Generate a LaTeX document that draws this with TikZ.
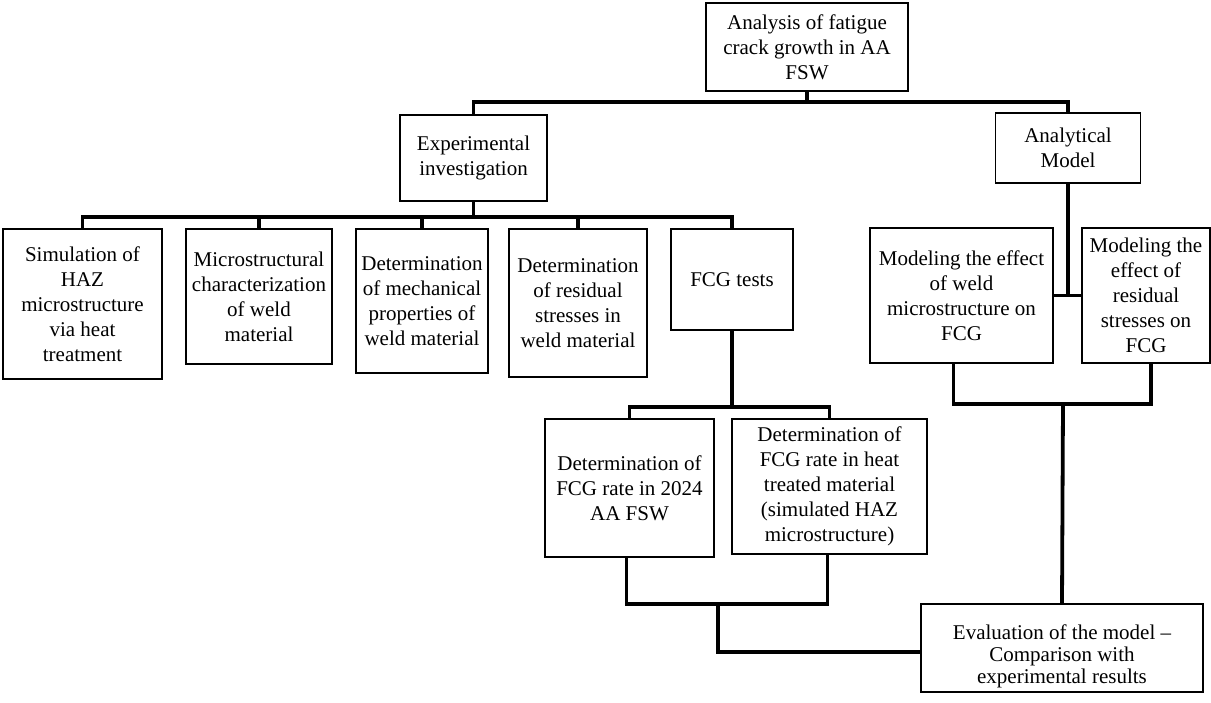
\documentclass[tikz,border=0pt]{standalone}
\usepackage{fontspec}
\setmainfont{Liberation Serif}
\begin{document}
\begin{tikzpicture}[x=1pt,y=-1pt,
  box/.style={draw=black, line width=1.6pt, fill=white, rectangle, inner sep=0pt, align=center,
    font=\fontsize{21}{25}\selectfont},
  conn/.style={draw=black, line width=3.8pt, line join=miter}]
\useasboundingbox (0,0) rectangle (1211,702);
% nodes
\node[box, minimum width=202pt, minimum height=88pt] (top) at (807,47) {Analysis of fatigue\\crack growth in AA\\FSW};
\node[box, minimum width=147pt, minimum height=86pt] (exp) at (473.5,158) {Experimental\\investigation};
\node[box, minimum width=145pt, minimum height=70pt] (ana) at (1068,148) {Analytical\\Model};
\node[box, minimum width=159pt, minimum height=150pt] (b1) at (82.5,304) {Simulation of\\HAZ\\microstructure\\via heat\\treatment};
\node[box, minimum width=146pt, minimum height=135pt] (b2) at (259,296.5) {Microstructural\\characterization\\of weld\\material};
\node[box, minimum width=132pt, minimum height=144pt] (b3) at (422,301) {Determination\\of mechanical\\properties of\\weld material};
\node[box, minimum width=138pt, minimum height=148pt] (b4) at (578,303) {Determination\\of residual\\stresses in\\weld material};
\node[box, minimum width=122pt, minimum height=101pt] (b5) at (732,279.5) {FCG tests};
\node[box, minimum width=183pt, minimum height=135pt] (m1) at (961.5,295.5) {Modeling the effect\\of weld\\microstructure on\\FCG};
\node[box, minimum width=128pt, minimum height=135pt] (m2) at (1146,295.5) {Modeling the\\effect of\\residual\\stresses on\\FCG};
\node[box, minimum width=169pt, minimum height=138pt] (s1) at (629.5,488) {Determination of\\FCG rate in 2024\\AA FSW};
\node[box, minimum width=195pt, minimum height=135pt] (s2) at (829.5,486.5) {Determination of\\FCG rate in heat\\treated material\\(simulated HAZ\\microstructure)};
\node[box, minimum width=282pt, minimum height=88pt,
  label={[align=center, font=\fontsize{21}{22}\selectfont, yshift=-8pt]center:Evaluation of the model –\\Comparison with\\experimental results}] (ev) at (1062,648) {};
% connectors
\coordinate (h1) at (807,102);
\draw[conn] (top.south) -- (top.south |- h1);
\draw[conn] (exp.north) |- (h1) -| (ana.north);
\coordinate (h2) at (473.5,217);
\draw[conn] (exp.south) -- (exp.south |- h2);
\draw[conn] (b1.north) |- (h2) -| (b5.north);
\draw[conn] (b2.north) -- (b2.north |- h2);
\draw[conn] (b3.north) -- (b3.north |- h2);
\draw[conn] (b4.north) -- (b4.north |- h2);
\coordinate (h3) at (732,407);
\draw[conn] (b5.south) -- (h3);
\draw[conn] (s1.north) |- (h3) -| (s2.north);
\coordinate (h4) at (718,604);
\draw[conn] ([xshift=-3pt]s1.south) |- (h4) -| ([xshift=-2pt]s2.south);
\draw[conn] (h4) |- ([yshift=-4pt]ev.west);
\draw[conn] (ana.south) -- (ana.south |- m1.east);
\draw[conn] (m1.east) -- (m2.west);
\coordinate (h6) at (1063,404);
\draw[conn] ([xshift=-8pt]m1.south) |- (h6) -| ([xshift=5pt]m2.south);
\draw[conn] (h6) -- (ev.north);
\end{tikzpicture}
\end{document}
